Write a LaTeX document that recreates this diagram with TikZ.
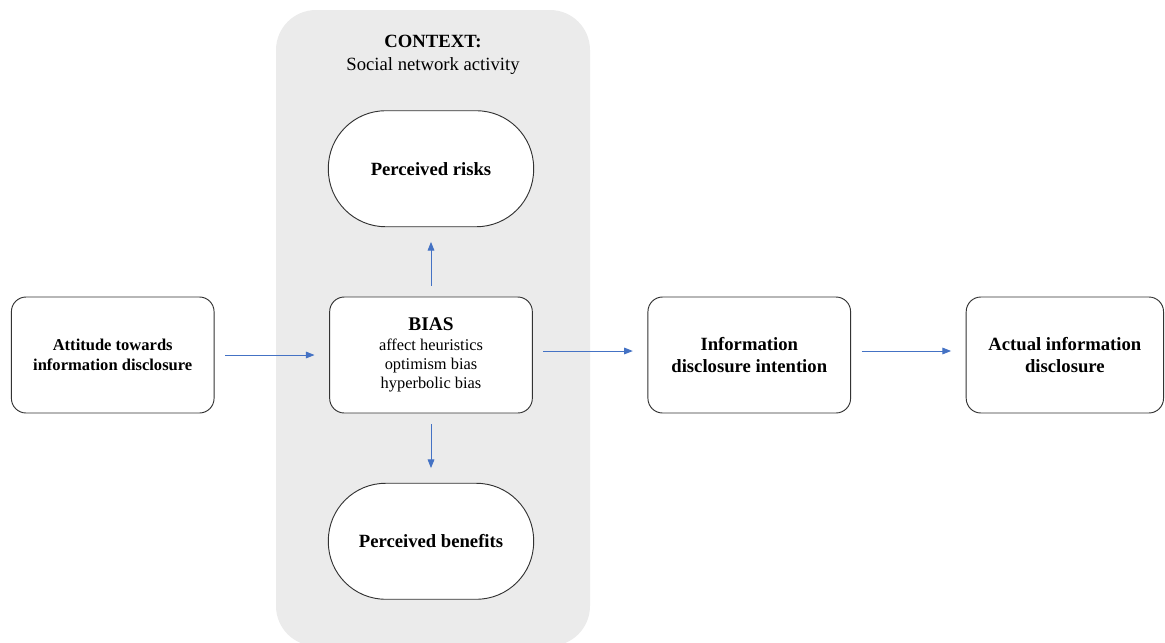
\documentclass[tikz,border=0pt]{standalone}
\usepackage{fontspec}
\setmainfont{Liberation Serif}
\usetikzlibrary{arrows.meta, positioning}
\definecolor{ctxGray}{HTML}{EBEBEB}
\definecolor{flowBlue}{HTML}{4472C4}

\begin{document}
\begin{tikzpicture}[
    x=0.75pt, y=-0.75pt,
    node distance=52pt and 86pt,
    box/.style={rectangle, draw=black!80, line width=0.7pt, fill=white, rounded corners=11pt, minimum width=152pt, minimum height=87pt, align=center, font=\fontsize{14}{17}\selectfont\bfseries},
    pill/.style={rectangle, draw=black!80, line width=0.7pt, fill=white, rounded corners=43pt, minimum width=154pt, minimum height=87pt, align=center, font=\fontsize{14}{17}\selectfont\bfseries},
    flow/.style={draw=flowBlue, line width=0.7pt, -{Triangle[length=6.5pt,width=5pt]}, shorten <=8pt, shorten >=11pt},
]
    \useasboundingbox (0,0) rectangle (1165,643);
    % context background
    \fill[ctxGray, rounded corners=30pt] (276,10) rectangle (590,646);
    \node[font=\fontsize{14}{17}\selectfont, align=center] (ctx) at (433,55) {\textbf{CONTEXT:}\\Social network activity};

    \node[box, font=\fontsize{12.3}{14.3}\selectfont] (bias) at (431,355) {{\fontsize{14.5}{17}\selectfont\bfseries BIAS}\\[1pt]affect heuristics\\optimism bias\\hyperbolic bias};
    \node[pill, above=of bias] (risks) {Perceived risks};
    \node[pill, below=of bias] (benefits) {Perceived benefits};
    \node[box, left=of bias, font=\fontsize{12.4}{15}\selectfont\bfseries] (attitude) {Attitude towards\\information disclosure};
    \node[box, right=of bias] (intention) {Information\\disclosure intention};
    \node[box, right=of intention, minimum width=148pt] (actual) {Actual information\\disclosure};

    \draw[flow] (attitude) -- (bias);
    \draw[flow] (bias) -- (risks);
    \draw[flow] (bias) -- (benefits);
    \draw[flow] ([yshift=3pt]bias.east) -- ([yshift=3pt]intention.west);
    \draw[flow] ([yshift=3pt]intention.east) -- ([yshift=3pt]actual.west);
\end{tikzpicture}
\end{document}
